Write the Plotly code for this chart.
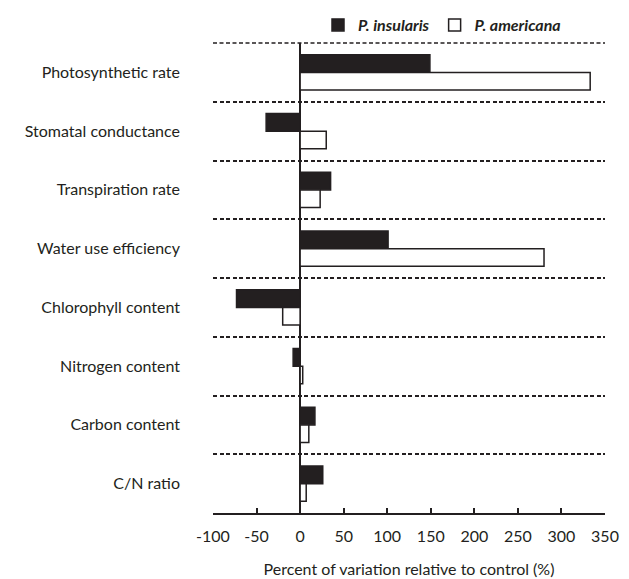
import plotly.graph_objects as go

categories = ["Photosynthetic rate", "Stomatal conductance", "Transpiration rate",
              "Water use efficiency", "Chlorophyll content", "Nitrogen content",
              "Carbon content", "C/N ratio"]
insularis = [149, -39, 35, 101, -73, -8, 17, 26]
americana = [333, 30, 23, 280, -20, 3, 10, 7]
x_ticks = [-100, -50, 0, 50, 100, 150, 200, 250, 300, 350]

FONT = "Lato"
INK = "#231f20"

fig = go.Figure()
fig.add_trace(go.Bar(y=categories, x=insularis, orientation="h",
                     name="<b><i>P. insularis</i></b>",
                     marker=dict(color=INK, line=dict(color=INK, width=1.5))))
fig.add_trace(go.Bar(y=categories, x=americana, orientation="h",
                     name="<b><i>P. americana</i></b>",
                     marker=dict(color="white", line=dict(color=INK, width=1.5))))

fig.update_layout(
    width=629, height=579,
    margin=dict(l=205, r=32, t=35, b=74, autoexpand=False),
    paper_bgcolor="white", plot_bgcolor="white",
    barmode="group", bargap=0.4, bargroupgap=0,
    font=dict(family=FONT, size=16, color=INK),
    legend=dict(orientation="h", xref="container", yref="container",
                x=310/629, y=1, xanchor="left", yanchor="top",
                font=dict(family=FONT, size=16, color=INK),
                bgcolor="rgba(0,0,0,0)", traceorder="normal"),
    xaxis=dict(range=[-100, 350], tickvals=x_ticks, ticktext=[str(v) for v in x_ticks],
               automargin=False,
               showgrid=False, zeroline=True, zerolinecolor=INK, zerolinewidth=2,
               showline=True, linecolor=INK, linewidth=2,
               ticks="inside", ticklen=5, tickwidth=1.5, tickcolor=INK,
               ticklabelstandoff=8,
               title=dict(text="Percent of variation relative to control (%)",
                          font=dict(size=16), standoff=20)),
    yaxis=dict(type="category", categoryorder="array", categoryarray=categories,
               autorange="reversed", tickson="boundaries", automargin=False,
               showgrid=True, gridcolor=INK, gridwidth=1.5, griddash="4px,2.5px",
               ticks="", showline=False, zeroline=False,
               ticklabelstandoff=32),
    shapes=[dict(type="line", xref="paper", yref="paper", x0=0, x1=1, y0=1, y1=1,
                 line=dict(color=INK, width=1.5, dash="4px,2.5px"), layer="below")],
)

fig.write_html("out.html")
